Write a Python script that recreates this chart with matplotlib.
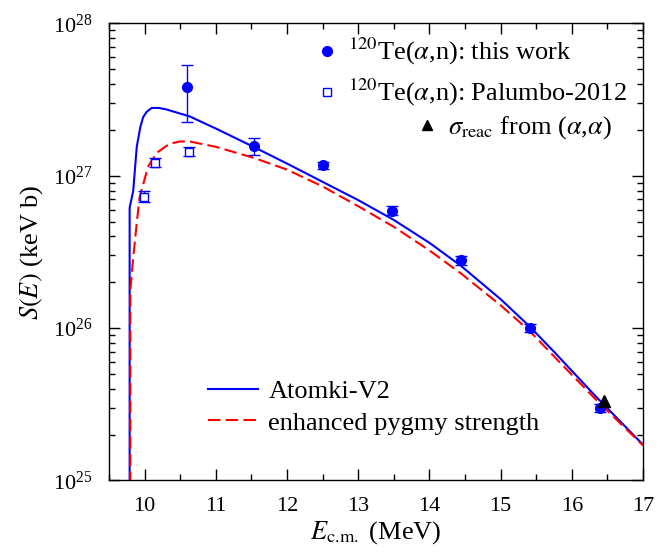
import numpy as np
import matplotlib
matplotlib.use("Agg")
import matplotlib.pyplot as plt
from matplotlib.lines import Line2D
from matplotlib.ticker import MultipleLocator, LogLocator

plt.rcParams['font.family'] = ['Liberation Serif', 'DejaVu Serif']
plt.rcParams['mathtext.fontset'] = 'stix'
plt.rcParams['font.size'] = 16

# 120Te(a,n): this work
e_this = [10.60, 11.54, 12.51, 13.47, 14.44, 15.41, 16.39]
s_this = [3.8e27, 1.56e27, 1.17e27, 5.9e26, 2.78e26, 1.0e26, 3.0e25]
s_this_err = [1.55e27, 0.20e27, 0.07e27, 0.04e27, 0.02e27, 0.06e26, 0.2e25]

# 120Te(a,n): Palumbo-2012
e_pal = [9.99, 10.15, 10.62]
s_pal = [7.3e26, 1.22e27, 1.44e27]
s_pal_err = [0.6e26, 0.8e26, 0.1e27]

# sigma_reac from (a,a)
e_reac = [16.45]
s_reac = [3.3e25]

# Atomki-V2 curve (log10 S)
e_atomki = [9.79, 9.79, 9.84, 9.89, 9.94, 9.98, 10.03, 10.10, 10.20, 10.30,
            10.63, 11.00, 11.55, 12.00, 12.50, 13.00, 13.50, 14.00,
            14.44, 15.00, 15.41, 15.76, 16.00, 16.32, 17.00]
log_atomki = [24.5, 26.79, 26.90, 27.19, 27.32, 27.385, 27.42, 27.445, 27.445,
              27.436, 27.39, 27.31, 27.185, 27.08, 26.96, 26.84, 26.71,
              26.56, 26.41, 26.19, 26.01, 25.84, 25.72, 25.56, 25.235]

# enhanced pygmy strength curve
e_pygmy = [9.80, 9.80, 9.84, 9.89, 9.93, 10.05, 10.17, 10.35, 10.50, 10.63,
           11.00, 11.55, 12.00, 12.50, 13.00, 13.50, 14.00, 14.44, 15.00,
           15.41, 15.76, 16.32, 17.00]
log_pygmy = [24.5, 26.25, 26.46, 26.69, 26.86, 27.06, 27.15, 27.21, 27.225,
             27.225, 27.19, 27.115, 27.04, 26.93, 26.80, 26.665, 26.51, 26.36,
             26.15, 25.98, 25.81, 25.54, 25.23]

fig = plt.figure(figsize=(6.67, 5.54), dpi=100)
ax = fig.add_axes([0.1634, 0.1327, 0.8006, 0.8251])

ax.plot(e_atomki, 10 ** np.array(log_atomki), color='#0000ff', lw=1.5,
        zorder=2)
ax.plot(e_pygmy, 10 ** np.array(log_pygmy), color='#ff0000', lw=1.5,
        dashes=(6, 2.5), zorder=3)

ax.errorbar(e_this, s_this, yerr=s_this_err, fmt='o', color='#0000ff',
            ms=7, capsize=4, elinewidth=1, capthick=1, zorder=4)
ax.errorbar(e_pal, s_pal, yerr=s_pal_err, fmt='s', color='#0000ff',
            mfc='white', ms=6, mew=1, capsize=4, elinewidth=1, capthick=1,
            zorder=4)
ax.plot(e_reac, s_reac, '^', color='black', ms=8, zorder=5)

ax.set_xlim(9.5, 17)
ax.set_yscale('log')
ax.set_ylim(1e25, 1e28)
ax.xaxis.set_major_locator(MultipleLocator(1))
ax.xaxis.set_minor_locator(MultipleLocator(0.5))
ax.yaxis.set_major_locator(LogLocator(base=10, numticks=10))
ax.yaxis.set_minor_locator(LogLocator(base=10, subs=np.arange(2, 10), numticks=20))

for s in ax.spines.values():
    s.set_linewidth(1.0)
ax.tick_params(which='both', direction='in', top=True, right=True,
               labelsize=16)
ax.tick_params(which='major', length=8, width=1)
ax.tick_params(which='minor', length=4, width=1)
ax.tick_params(axis='x', pad=12)
ax.tick_params(axis='y', pad=12)

ax.set_xlabel(r'$E_{\rm c.\!m.}$ (MeV)', fontsize=19, labelpad=2)
ax.set_ylabel(r'$S(E)$ (keV b)', fontsize=19, labelpad=6)

h_this = Line2D([], [], ls='none', marker='o', color='#0000ff', ms=7)
h_pal = Line2D([], [], ls='none', marker='s', color='#0000ff', mfc='white',
               ms=6, mew=1)
h_reac = Line2D([], [], ls='none', marker='^', color='black', ms=7)

leg1 = ax.legend([h_this, h_pal],
                 [r'$^{120}$Te($\alpha$,n): this work',
                  r'$^{120}$Te($\alpha$,n): Palumbo-2012'],
                 loc='center right', bbox_to_anchor=(0.970, 0.893),
                 frameon=False, borderpad=0, borderaxespad=0,
                 handlelength=0.8, handletextpad=0.4, labelspacing=0.38,
                 fontsize=19)
ax.add_artist(leg1)
leg2 = ax.legend([h_reac], [r'$\sigma_{\rm reac}$ from ($\alpha$,$\alpha$)'],
                 loc='center right', bbox_to_anchor=(0.942, 0.771),
                 frameon=False, borderpad=0, borderaxespad=0,
                 handlelength=0.8, handletextpad=0.4, fontsize=19)
ax.add_artist(leg2)

h_a = Line2D([], [], color='#0000ff', lw=1.5)
h_p = Line2D([], [], color='#ff0000', lw=1.5, dashes=(6, 2.5))
ax.legend([h_a, h_p], ['Atomki-V2', 'enhanced pygmy strength'],
          loc='center left', bbox_to_anchor=(0.185, 0.1606),
          frameon=False, borderpad=0, borderaxespad=0,
          handlelength=1.9, handletextpad=0.4, labelspacing=0.3,
          fontsize=19)

fig.savefig('out.png', dpi=100)
